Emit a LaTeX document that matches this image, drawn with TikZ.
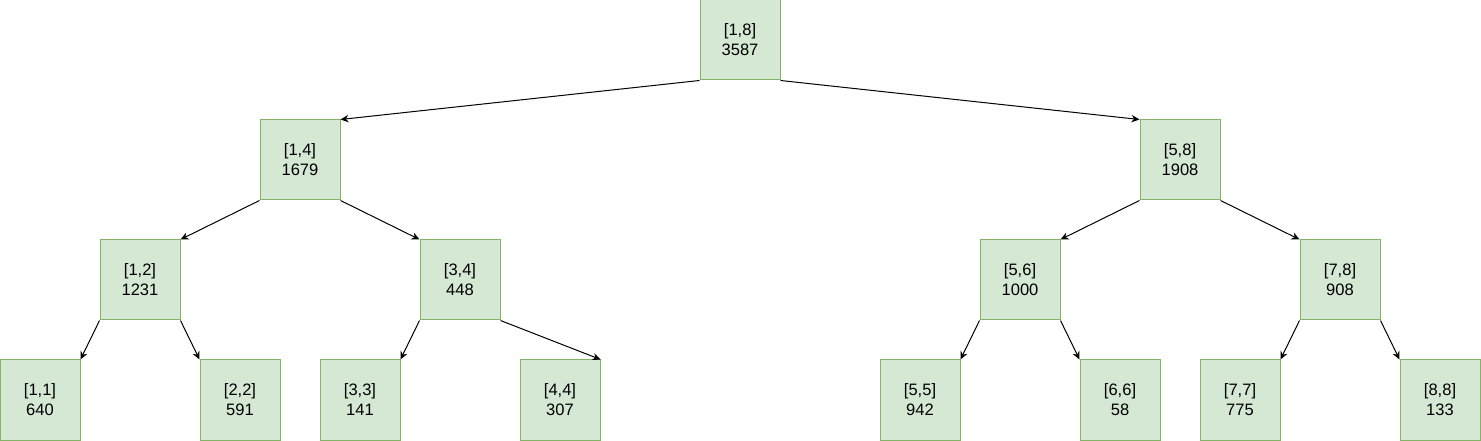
\documentclass[tikz,border=0pt]{standalone}
\usepackage{fontspec}
\setmainfont{Liberation Sans}
\usetikzlibrary{arrows.meta}
\definecolor{boxfill}{RGB}{213,232,212}
\definecolor{boxline}{RGB}{130,179,102}
\begin{document}
\begin{tikzpicture}[x=0.75pt, y=-0.75pt, font=\fontsize{12.4}{15}\selectfont,
  seg/.style={draw=boxline, fill=boxfill, line width=0.75pt, minimum size=60pt, inner sep=0pt, align=center},
  link/.style={-{Stealth[length=6pt,width=5.5pt]}, line width=0.75pt}]
  \useasboundingbox (0,0) rectangle (1481,441);
  % name, x-centre, y-centre, range, sum
  \foreach \n/\x/\y/\r/\s in {n18/740/40/{1,8}/3587,
                              n14/300/160/{1,4}/1679, n58/1180/160/{5,8}/1908,
                              n12/140/280/{1,2}/1231, n34/460/280/{3,4}/448,
                              n56/1020/280/{5,6}/1000, n78/1340/280/{7,8}/908,
                              n11/40/400/{1,1}/640, n22/240/400/{2,2}/591,
                              n33/360/400/{3,3}/141, n44/560/400/{4,4}/307,
                              n55/920/400/{5,5}/942, n66/1120/400/{6,6}/58,
                              n77/1240/400/{7,7}/775, n88/1440/400/{8,8}/133} {
    \node[seg] (\n) at (\x,\y) {[\r]\\\s};
  }
  % parent corner -> child corner
  \foreach \a/\p/\b/\q in {n18/south west/n14/north east, n18/south east/n58/north west,
                           n14/south west/n12/north east, n14/south east/n34/north west,
                           n58/south west/n56/north east, n58/south east/n78/north west,
                           n12/south west/n11/north east, n12/south east/n22/north west,
                           n34/south west/n33/north east, n34/south east/n44/north east,
                           n56/south west/n55/north east, n56/south east/n66/north west,
                           n78/south west/n77/north east, n78/south east/n88/north west} {
    \draw[link] (\a.\p) -- (\b.\q);
  }
\end{tikzpicture}
\end{document}
